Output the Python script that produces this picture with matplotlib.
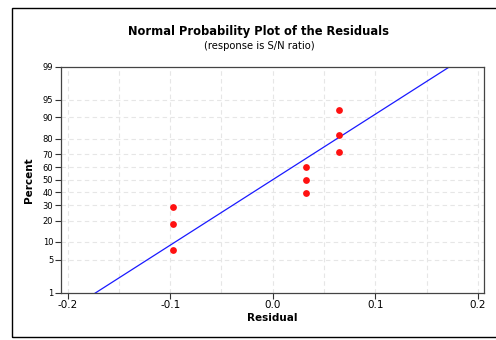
import numpy as np
import matplotlib
matplotlib.use("Agg")
import matplotlib.pyplot as plt
from matplotlib.patches import Rectangle
from statistics import NormalDist

# Data
residuals = [-0.097, -0.097, -0.097, 0.032, 0.032, 0.032, 0.065, 0.065, 0.065]
percent_ticks = [1, 5, 10, 20, 30, 40, 50, 60, 70, 80, 90, 95, 99]
x_ticks = [-0.2, -0.1, 0.0, 0.1, 0.2]
x_tick_labels = ["-0.2", "-0.1", "0.0", "0.1", "0.2"]
x_grid = [-0.2, -0.15, -0.1, -0.05, 0.0, 0.05, 0.1, 0.15, 0.2]

nd = NormalDist()
def z(p):
    return nd.inv_cdf(p / 100.0)

r = np.sort(np.array(residuals))
n = len(r)
pp = [(i - 0.3) / (n + 0.4) * 100 for i in range(1, n + 1)]
zy = [z(p) for p in pp]
mu = r.mean()
sd = r.std(ddof=1)

fig = plt.figure(figsize=(4.96, 3.40), dpi=100)
fig.patches.append(Rectangle((12/496, 3/340), 500/496, 329/340, transform=fig.transFigure,
                             fill=False, edgecolor="black", linewidth=1.0))
ax = fig.add_axes([61/496, 1 - 292.7/340, (484.3 - 61)/496, (292.7 - 66.7)/340])

ylo, yhi = z(1), z(99)
ax.set_ylim(ylo, yhi)
ax.set_xlim(-0.2064, 0.2062)

for g in x_grid:
    ax.axvline(g, color="#e6e6e6", linestyle=(0, (4, 3)), linewidth=0.8, zorder=0)
for p in percent_ticks[1:-1]:
    ax.axhline(z(p), color="#e6e6e6", linestyle=(0, (4, 3)), linewidth=0.8, zorder=0)

# fitted line
xl = np.linspace(-0.3, 0.3, 200)
ax.plot(xl, (xl - mu) / sd, color="#1a1aff", linewidth=0.9, zorder=2)
ax.scatter(r, zy, s=24, color="#ff1111", zorder=3, linewidths=0)

ax.set_yticks([z(p) for p in percent_ticks])
ax.set_yticklabels([str(p) for p in percent_ticks], fontsize=6)
ax.set_xticks(x_ticks)
ax.set_xticklabels(x_tick_labels, fontsize=7.5)
ax.tick_params(axis="both", length=4, width=0.8, color="#333333", pad=1.5)
for s in ax.spines.values():
    s.set_color("#444444")
    s.set_linewidth(0.9)

ax.set_xlabel("Residual", fontsize=7.5, fontweight="bold", labelpad=2)
ax.set_ylabel("Percent", fontsize=7.5, fontweight="bold", labelpad=6)

fig.text(259/496, 1 - 32/340, "Normal Probability Plot of the Residuals", ha="center", va="center",
         fontsize=8.3, fontweight="bold")
fig.text(259/496, 1 - 46/340, "(response is S/N ratio)", ha="center", va="center", fontsize=7.2)

fig.savefig("out.png", dpi=100)
